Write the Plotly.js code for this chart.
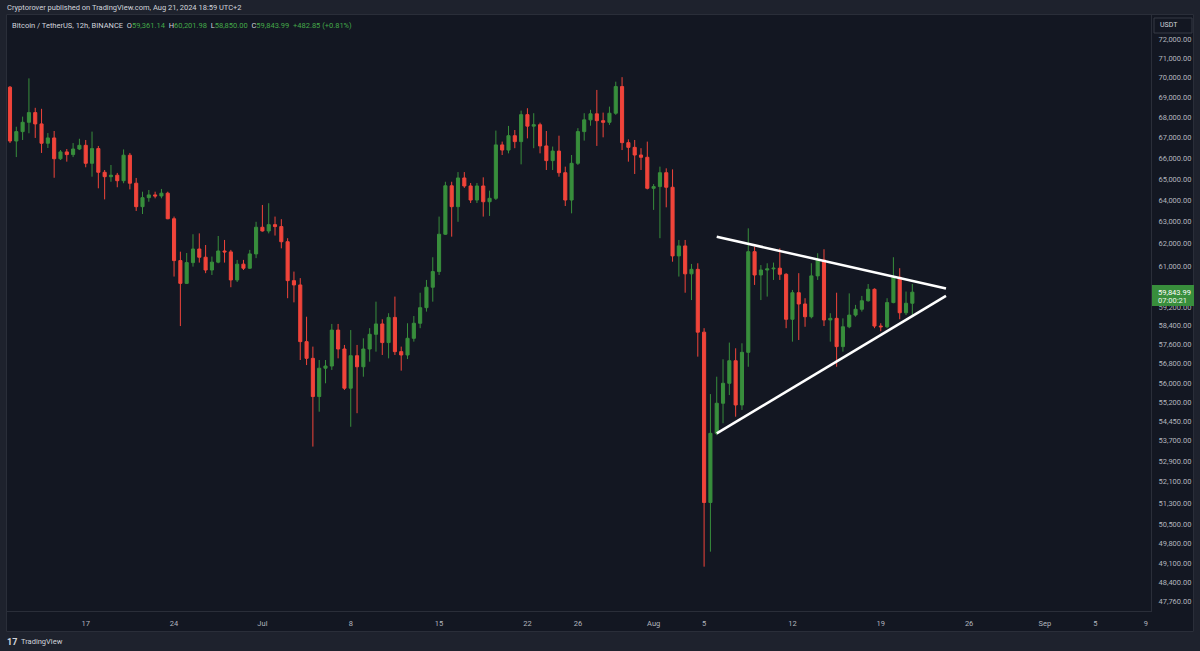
<!DOCTYPE html>
<html>
<head>
<meta charset="utf-8">
<script src="https://cdn.plot.ly/plotly-3.0.1.min.js"></script>
<style>html,body{margin:0;padding:0;background:#1e222d;}#chart{width:1200px;height:651px;}</style>
</head>
<body>
<div id="chart"></div>
<script>
// ---- data (BTC/USDT 12h, Binance) ----
const START_UTC = Date.UTC(2024, 5, 11, 0, 0);   // first candle: 2024-06-11 00:00
const INTERVAL_HOURS = 12;

const openP = [
69510,66830,67290,67750,68230,67670,66720,66980,65970,66300,
66170,66440,66620,65750,66460,65320,65110,65180,64920,66140,
64800,63700,64120,64250,64200,64330,63140,61240,60230,61150,
61760,61390,60820,61170,61670,61630,60380,61080,60900,61540,
62750,62580,62870,62780,62090,60350,60160,57720,57020,55450,
56610,56700,58210,57410,55790,57130,56670,57410,58030,58470,
57680,58750,57300,57160,57860,58500,59170,60060,60750,62430,
64680,63700,65050,64670,64010,64670,63930,64090,66640,66390,
67090,66800,68130,67560,67630,66590,65880,66340,65300,64010,
65750,67290,67870,68170,67830,67750,68200,69540,66750,66520,
66150,66040,64560,64640,65300,64610,61450,61900,60650,60850,
58120,51320,53980,55180,55990,56920,55110,57270,61640,60600,
60820,60870,60900,60630,58670,59820,59330,58780,60560,61270,
58640,58710,57510,58350,58850,59100,59470,59970,58380,58350,
59390,60500,58950,59361.14];
const highP = [
69570,67530,68030,69960,68470,68420,67220,67320,66390,66440,
66730,66940,66880,67290,66590,65430,65670,65290,66420,66250,
65050,64400,64480,64400,64530,64400,63240,61640,61580,62430,
62470,61940,61420,62350,62170,61720,61270,61270,61720,63000,
63780,63860,63240,63120,62250,60750,60460,58780,57510,56950,
56950,58470,58470,57580,58210,57580,57860,58290,59430,58670,
58930,59650,57510,58500,58810,59820,60380,61390,63240,64870,
64870,65330,65330,64810,64810,65080,64450,67340,66800,67570,
67370,68330,68450,68200,67730,67320,66560,67090,65590,66150,
67460,68200,68370,69370,68230,68530,69790,70020,66910,66880,
66480,66800,64760,65590,65510,65460,62170,62170,61090,61120,
58290,55550,56260,56980,57680,57440,57650,62700,61870,61040,
61120,61150,61790,60680,59940,60680,59580,61120,61570,61750,
58930,59820,58710,59790,59290,59680,60200,60010,58500,59580,
61390,60900,59870,60201.98];
const lowP = [
66730,66050,66880,67210,66980,66250,66490,65060,65910,65830,
66050,66390,65560,65110,64560,64040,64870,64610,64800,64510,
63500,63360,63930,64090,64090,63120,60530,58380,60200,60970,
61150,60680,60600,61120,61150,60060,60290,60820,60870,61350,
62550,62470,62370,61790,59580,59400,56950,56740,53460,54840,
55990,56540,57020,55720,54240,54780,56260,56880,57300,57160,
57020,57160,56510,56990,57720,58290,59000,59430,60600,62400,
62320,63000,64580,63870,63870,63240,63270,64010,66150,66230,
66480,65700,66960,66480,66230,65430,65430,65110,63730,63390,
65670,66850,67580,66590,67010,67620,68120,66390,65830,65240,
65430,64510,63550,62250,63670,61190,60530,59820,59500,57090,
48970,49510,53910,54380,55510,54640,54910,56670,60160,59500,
59650,60380,60380,58290,57720,57790,58350,58710,60380,58380,
57720,56670,57300,58290,58780,59000,59430,58290,58160,58290,
59360,58670,58850,58850.00];
const closeP = [
66830,67290,67750,68230,67670,66720,66980,65970,66300,66170,
66440,66620,65750,66460,65320,65110,65180,64920,66140,64800,
63700,64120,64250,64200,64330,63140,61240,60230,61150,61760,
61390,60820,61170,61670,61630,60380,61080,60900,61540,62750,
62580,62870,62780,62090,60350,60160,57720,57020,55450,56610,
56700,58210,57410,55790,57130,56670,57410,58030,58470,57680,
58750,57300,57160,57860,58500,59170,60060,60750,62430,64680,
63700,65050,64670,64010,64670,63930,64090,66640,66390,67090,
66800,68130,67560,67630,66590,65880,66340,65300,64010,65750,
67290,67870,68170,67830,67750,68200,69540,66750,66520,66150,
66040,64560,64640,65300,64610,61450,61900,60650,60850,58120,
51320,53980,55180,55990,56920,55110,57270,61640,60600,60820,
60870,60900,60630,58670,59820,59330,58780,60560,61270,58640,
58710,57510,58350,58850,59100,59470,59970,58380,58350,59390,
60500,58950,59361.14,59843.99];

// triangle (drawn trend lines)
const upperLineX = ['2024-08-06 00:00', '2024-08-24 04:00'];
const upperLineY = [62320, 60000];
const lowerLineX = ['2024-08-06 00:00', '2024-08-24 04:00'];
const lowerLineY = [53980, 59680];

// axis ticks (60,000.00 sits under the last-price label in the reference)
const xTickVals = ['2024-06-17','2024-06-24','2024-07-01','2024-07-08','2024-07-15','2024-07-22','2024-07-26',
                   '2024-08-01','2024-08-05','2024-08-12','2024-08-19','2024-08-26','2024-09-01','2024-09-05','2024-09-09'];
const xTickText = ['17','24','Jul','8','15','22','26','Aug','5','12','19','26','Sep','5','9'];
const yTickVals = [72000,71000,70000,69000,68000,67000,66000,65000,64000,63000,62000,61000,
                   59200,58400,57600,56800,56000,55200,54450,53700,52900,52100,51300,50500,49800,49100,48400,47760];

const lastClose = 59843.99;
const countdown = '07:00:21';

// ---- build ----
const times = openP.map((_, i) => new Date(START_UTC + i * INTERVAL_HOURS * 3600e3)
  .toISOString().slice(0, 16).replace('T', ' '));
const fmt = v => v.toLocaleString('en-US', {minimumFractionDigits: 2, maximumFractionDigits: 2});

const UP = '#388e3c', DOWN = '#f0443a';
const BG = '#131722', OUTER = '#1e222d', BORDER = '#2a2e39', TXT = '#b2b5be';
const FONT = 'Roboto, "Liberation Sans", sans-serif';

// layout geometry (pixels)
const W = 1200, H = 651, L = 6, R = 49, T = 14, B = 40;
const pw = W - L - R, ph = H - T - B;
const px = x => (x - L) / pw;
const py = y => (H - B - y) / ph;

const traces = [
  {type: 'candlestick', x: times, open: openP, high: highP, low: lowP, close: closeP,
   increasing: {line: {color: UP, width: 1}, fillcolor: UP},
   decreasing: {line: {color: DOWN, width: 1}, fillcolor: DOWN},
   whiskerwidth: 0, hoverinfo: 'skip'},
  {type: 'scatter', mode: 'lines', x: upperLineX, y: upperLineY,
   line: {color: '#ffffff', width: 2.5}, hoverinfo: 'skip'},
  {type: 'scatter', mode: 'lines', x: lowerLineX, y: lowerLineY,
   line: {color: '#ffffff', width: 2.5}, hoverinfo: 'skip'}
];

const shapes = [
  {type:'rect', xref:'paper', yref:'paper', x0:px(0), x1:px(W), y0:py(14), y1:py(0), fillcolor:OUTER, line:{width:0}, layer:'below'},
  {type:'rect', xref:'paper', yref:'paper', x0:px(0), x1:px(W), y0:py(H), y1:py(632), fillcolor:OUTER, line:{width:0}, layer:'below'},
  {type:'rect', xref:'paper', yref:'paper', x0:px(0), x1:px(6), y0:py(H), y1:py(0), fillcolor:OUTER, line:{width:0}, layer:'below'},
  {type:'rect', xref:'paper', yref:'paper', x0:px(1194), x1:px(W), y0:py(H), y1:py(0), fillcolor:OUTER, line:{width:0}, layer:'below'},
  {type:'rect', xref:'paper', yref:'paper', x0:px(6.5), x1:px(1193.5), y0:py(631.5), y1:py(14.5), line:{color:BORDER, width:1}, layer:'below'},
  {type:'rect', xref:'paper', yref:'paper', x0:px(1154), x1:px(1192), y0:py(33), y1:py(18), line:{color:'#363a45', width:1}, fillcolor:BG, layer:'above'},
  {type:'rect', xref:'paper', yref:'paper', x0:px(1152), x1:px(1194), y0:py(306), y1:py(285), line:{width:0}, fillcolor:UP, layer:'above'}
];

const ann = (x, y, text, size, color, extra) => Object.assign({
  xref:'paper', yref:'paper', x:px(x), y:py(y), text, showarrow:false,
  xanchor:'left', yanchor:'middle', font:{family:FONT, size, color}}, extra || {});

const G = '#44a849';
const legendText = 'Bitcoin / TetherUS, 12h, BINANCE  ' +
  'O<span style="color:' + G + '">' + fmt(openP[openP.length-1]) + '</span>  ' +
  'H<span style="color:' + G + '">' + fmt(highP[highP.length-1]) + '</span>  ' +
  'L<span style="color:' + G + '">' + fmt(lowP[lowP.length-1]) + '</span>  ' +
  'C<span style="color:' + G + '">' + fmt(closeP[closeP.length-1]) + '</span>  ' +
  '<span style="color:' + G + '">+482.85 (+0.81%)</span>';

const annotations = [
  ann(5, 7.5, 'Cryptorover published on TradingView.com, Aug 21, 2024 18:59 UTC+2', 7.5, '#d1d4dc'),
  ann(10, 25, legendText, 7.5, '#d1d4dc'),
  ann(1158, 25.5, 'USDT', 7, '#d1d4dc'),
  ann(1156, 292, fmt(lastClose), 7.5, '#ffffff'),
  ann(1156, 300.5, countdown, 7.5, '#e8f5e9'),
  ann(5, 641.5, '<b>17</b>', 9, '#d1d4dc'),
  ann(19, 641.5, 'TradingView', 7.5, '#d1d4dc')
];

const layout = {
  width: W, height: H,
  margin: {l: L, r: R, t: T, b: B, pad: 0},
  paper_bgcolor: BG, plot_bgcolor: BG,
  showlegend: false,
  font: {family: FONT, color: TXT, size: 7.5},
  xaxis: {type: 'date', range: ['2024-06-10 16:24', '2024-09-09 09:53'],
          rangeslider: {visible: false}, tickmode: 'array', tickvals: xTickVals, ticktext: xTickText,
          showgrid: false, zeroline: false, showline: true, linecolor: BORDER, linewidth: 1,
          ticks: '', ticklabelstandoff: 5, tickfont: {family: FONT, size: 7.5, color: TXT}, fixedrange: true},
  yaxis: {type: 'log', side: 'right', range: [4.675871, 4.865263],
          tickmode: 'array', tickvals: yTickVals, ticktext: yTickVals.map(fmt),
          showgrid: false, zeroline: false, showline: true, linecolor: BORDER, linewidth: 1,
          ticks: '', ticklabelstandoff: 5, tickfont: {family: FONT, size: 7.5, color: TXT}, fixedrange: true},
  shapes, annotations
};

Plotly.newPlot('chart', traces, layout, {displayModeBar: false, staticPlot: true});
</script>
</body>
</html>
